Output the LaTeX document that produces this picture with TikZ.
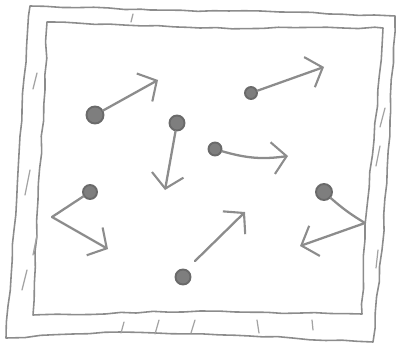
\documentclass[tikz,border=0pt]{standalone}
\usepackage{tikz}
\usetikzlibrary{arrows.meta, decorations.pathmorphing}
\definecolor{pencil}{HTML}{8C8C8C}
\definecolor{pencildark}{HTML}{6A6A6A}

\begin{document}
\begin{tikzpicture}[
    x=0.02cm, y=-0.02cm,
    sketch/.style={draw=pencil, line width=0.9pt, line cap=round, line join=round,
                   decorate, decoration={random steps, segment length=9pt, amplitude=0.5pt}},
    particle/.style={circle, draw=pencildark, fill=pencil!90!black, line width=1.1pt,
                     minimum size=#1, inner sep=0pt},
    particle/.default=0.3cm,
    arrow/.style={-{Straight Barb[length=2.8mm, width=6.4mm, line width=1.2pt]},
                  draw=pencil, line width=1.3pt, line cap=round},
    bounce/.style={draw=pencil, line width=1.3pt, line cap=round},
    hatch/.style={draw=pencil!80, line width=0.7pt, line cap=round}
]
\pgfmathsetseed{7}
\useasboundingbox (0,0) rectangle (398,348);

% Walls
\draw[sketch] (30,6) -- (150,10) -- (280,12) -- (395,16) -- (390,120) -- (382,250) -- (373,342)
    -- (250,336) -- (120,332) -- (6,338) -- (14,230) -- (22,110) -- cycle;
\draw[sketch] (47,22) -- (200,28) -- (383,28) -- (374,140) -- (365,225) -- (362,314)
    -- (200,311) -- (33,315) -- (38,200) -- (45,90) -- cycle;

% Hatching
\draw[hatch] (133,14) -- (131,22);
\draw[hatch] (37,73) -- (33,89);
\draw[hatch] (30,170) -- (25,195);
\draw[hatch] (37,235) -- (33,255);
\draw[hatch] (27,270) -- (22,290);
\draw[hatch] (385,108) -- (380,127);
\draw[hatch] (380,146) -- (376,166);
\draw[hatch] (378,250) -- (376,268);
\draw[hatch] (124,322) -- (121,333);
\draw[hatch] (159,320) -- (155,334);
\draw[hatch] (195,320) -- (191,333);
\draw[hatch] (257,320) -- (259,333);
\draw[hatch] (312,320) -- (313,330);

% Particles
\node[particle=0.34cm] at (95,115) (pa) {};
\node[particle=0.3cm] at (177,123) (pb) {};
\node[particle=0.24cm] at (251,93) (pc) {};
\node[particle=0.26cm] at (215,149) (pd) {};
\node[particle=0.28cm] at (90,192) (pe) {};
\node[particle=0.32cm] at (324,192) (pf) {};
\node[particle=0.3cm] at (183,277) (pg) {};

% Ends of the arrows
\coordinate (ea) at (158,80);
\coordinate (eb) at (165,190);
\coordinate (ec) at (324,67);
\coordinate (ed) at (288,156);
\coordinate (wl) at (52,217);
\coordinate (ee) at (108,249);
\coordinate (wr) at (365,223);
\coordinate (ef) at (300,246);
\coordinate (sg) at (195,261);
\coordinate (eg) at (245,212);

% Velocities
\draw[arrow] (pa) -- (ea);
\draw[arrow] (pb) -- (eb);
\draw[arrow] (pc) -- (ec);
\draw[arrow] (pd) to[bend right=12] (ed);
\draw[bounce] (pe) -- (wl);
\draw[arrow] (wl) -- (ee);
\draw[bounce] (pf) to[bend right=5] (wr);
\draw[arrow] (wr) -- (ef);
\draw[arrow] (sg) -- (eg);

\end{tikzpicture}
\end{document}
